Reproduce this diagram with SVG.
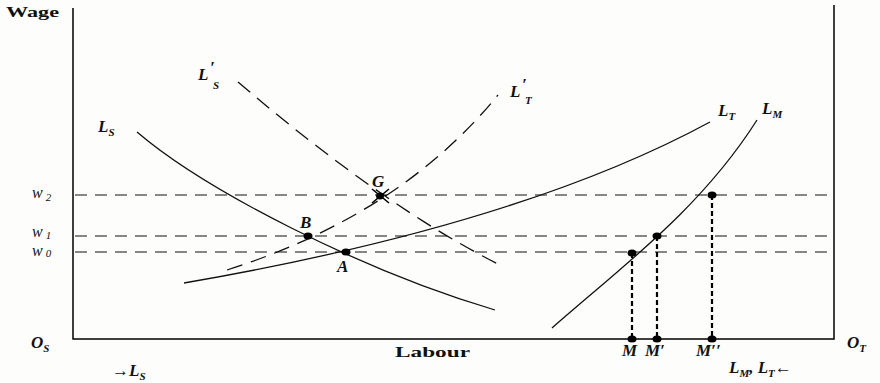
<svg xmlns="http://www.w3.org/2000/svg" width="880" height="383" viewBox="0 0 880 383">
<style>
.ax{stroke:#000;stroke-width:1.5;fill:none}
.cv{stroke:#111;stroke-width:1.3;fill:none}
.dl{stroke:#111;stroke-width:1.3;fill:none;stroke-dasharray:16 9}
.hd{stroke:#111;stroke-width:1.1;fill:none;stroke-dasharray:12 8}
.vd{stroke:#000;stroke-width:2.2;fill:none;stroke-dasharray:5 3}
.lb{font-family:"Liberation Serif",serif;font-style:italic;font-weight:bold;font-size:17px;fill:#111}
.sb{font-size:11px}
.wl{font-family:"Liberation Serif",serif;font-style:italic;font-size:16px;fill:#111}
.tx{font-family:"Liberation Serif",serif;font-weight:bold;font-size:15px;fill:#111}
.dot{fill:#000}
</style>
<rect width="880" height="383" fill="#fdfdfb"/>
<g id="axes">
<polyline class="ax" points="73,8 73,339 834,339 834,5"/>
<text class="tx" x="6" y="17" font-size="14" textLength="53" lengthAdjust="spacingAndGlyphs">Wage</text>
<text class="tx" x="395" y="357" textLength="75" lengthAdjust="spacingAndGlyphs">Labour</text>
<text class="lb" x="31" y="348">O<tspan class="sb" dy="4">S</tspan></text>
<text class="lb" x="847" y="348">O<tspan class="sb" dy="4">T</tspan></text>
<text class="lb" x="112" y="376"><tspan font-style="normal" font-weight="normal">→</tspan>L<tspan class="sb" dy="4">S</tspan></text>
<text class="lb" x="729" y="373">L<tspan class="sb" dy="4">M</tspan><tspan dy="-4">, L</tspan><tspan class="sb" dy="4">T</tspan><tspan dy="-4" font-style="normal" font-weight="normal">←</tspan></text>
</g>
<g id="wage-levels">
<line class="hd" x1="75" y1="195" x2="834" y2="195"/>
<line class="hd" x1="75" y1="236" x2="834" y2="236"/>
<line class="hd" x1="75" y1="252" x2="834" y2="252"/>
<text class="wl" x="32" y="198">w<tspan class="sb" dx="3" dy="3">2</tspan></text>
<text class="wl" x="32" y="237">w<tspan class="sb" dx="3" dy="2">1</tspan></text>
<text class="wl" x="32" y="256">w<tspan class="sb" dx="3" dy="1">0</tspan></text>
</g>
<g id="connectors">
<path id="LS" class="cv" d="M137,132 C205,190 360,270 495,310"/>
<path id="LT" class="cv" d="M184,283 Q520,225 710,122"/>
<path id="LM" class="cv" d="M552,328 C620,268 700,210 757,120"/>
<path id="LSp" class="dl" d="M238,82 C300,135 400,215 500,265"/>
<path id="LTp" class="dl" d="M227,270 Q400,215 498,95"/>
<line class="vd" x1="632" y1="253" x2="632" y2="339"/>
<line class="vd" x1="657" y1="236" x2="657" y2="339"/>
<line class="vd" x1="712" y1="195" x2="712" y2="339"/>
</g>
<g id="curve-labels">
<text class="lb" x="98" y="132">L<tspan class="sb" dy="4">S</tspan></text>
<text class="lb" x="718" y="116">L<tspan class="sb" dy="4">T</tspan></text>
<text class="lb" x="762" y="114">L<tspan class="sb" dy="4">M</tspan></text>
<text class="lb" x="198" y="80">L</text><text class="lb" x="210" y="73" font-size="13">′</text><text class="lb sb" x="213" y="89">S</text>
<text class="lb" x="510" y="97">L</text><text class="lb" x="522" y="90" font-size="13">′</text><text class="lb sb" x="525" y="104">T</text>
</g>
<g id="point-A"><ellipse class="dot" cx="346" cy="252" rx="4.5" ry="3.5"/><text class="lb" x="337" y="272">A</text></g>
<g id="point-B"><ellipse class="dot" cx="308" cy="236" rx="4.5" ry="3.5"/><text class="lb" x="300" y="228">B</text></g>
<g id="point-G"><path d="M372,189 L389,203 M389,189 L372,203" stroke="#000" stroke-width="1.6"/><ellipse class="dot" cx="380" cy="196" rx="4" ry="3.5"/><text class="lb" x="372" y="187">G</text></g>
<g id="point-M"><ellipse class="dot" cx="632" cy="253" rx="4.5" ry="3.5"/><ellipse class="dot" cx="632" cy="339" rx="4.5" ry="3.5"/><text class="lb" x="622" y="356">M</text></g>
<g id="point-M1"><ellipse class="dot" cx="657" cy="236" rx="4.5" ry="3.5"/><ellipse class="dot" cx="657" cy="339" rx="4.5" ry="3.5"/><text class="lb" x="645" y="356">M′</text></g>
<g id="point-M2"><ellipse class="dot" cx="712" cy="195" rx="4.5" ry="3.5"/><ellipse class="dot" cx="712" cy="339" rx="4.5" ry="3.5"/><text class="lb" x="696" y="356">M′′</text></g>
</svg>
